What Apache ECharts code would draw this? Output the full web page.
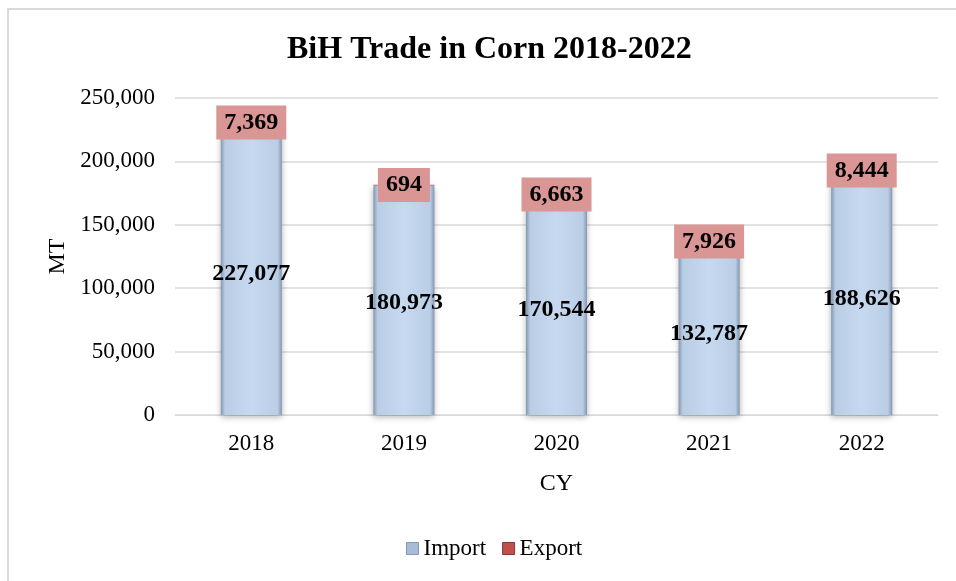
<!DOCTYPE html>
<html>
<head>
<meta charset="utf-8">
<script src="https://cdn.jsdelivr.net/npm/echarts@6/dist/echarts.min.js"></script>
<style>
html,body{margin:0;padding:0;background:#fff;}
#frame{position:absolute;left:7px;top:8px;width:1000px;height:640px;border:2px solid #d9d9d9;box-sizing:border-box;}
#chart{position:absolute;left:0;top:0;width:956px;height:581px;}
</style>
</head>
<body>
<div id="frame"></div>
<div id="chart"></div>
<script>
const categories = ['2018', '2019', '2020', '2021', '2022'];
const importValues = [227077, 180973, 170544, 132787, 188626];
const exportValues = [7369, 694, 6663, 7926, 8444];
const yTicks = [0, 50000, 100000, 150000, 200000, 250000];

const serif = '"Liberation Serif", "Times New Roman", serif';
const chart = echarts.init(document.getElementById('chart'));
const fmt = v => v.toLocaleString('en-US');

chart.setOption({
  animation: false,
  backgroundColor: 'transparent',
  title: {
    text: 'BiH Trade in Corn 2018-2022',
    left: 282, top: 29,
    textStyle: { fontFamily: serif, fontSize: 32, fontWeight: 'bold', color: '#000' }
  },
  legend: {
    bottom: 16, left: 401,
    itemWidth: 12, itemHeight: 12, itemGap: 16,
    textStyle: { fontFamily: serif, fontSize: 23, color: '#000' },
    data: [
      { name: 'Import', icon: 'rect', itemStyle: { color: '#a9bcd6', borderColor: '#8499b5', borderWidth: 1 } },
      { name: 'Export', icon: 'rect', itemStyle: { color: '#c0504d', borderColor: '#8c3331', borderWidth: 1 } }
    ]
  },
  grid: { left: 175, right: 18, top: 98, bottom: 166 },
  xAxis: {
    type: 'category', data: categories,
    name: 'CY', nameLocation: 'middle', nameGap: 57,
    nameTextStyle: { fontFamily: serif, fontSize: 24, color: '#000' },
    axisLine: { show: true, lineStyle: { color: '#d9d9d9', width: 1 } },
    axisTick: { show: false },
    axisLabel: { fontFamily: serif, fontSize: 23, color: '#000', margin: 17 }
  },
  yAxis: {
    type: 'value', min: yTicks[0], max: yTicks[yTicks.length - 1], interval: 50000,
    name: 'MT', nameLocation: 'middle', nameGap: 105,
    nameTextStyle: { fontFamily: serif, fontSize: 24, color: '#000' },
    axisLine: { show: false }, axisTick: { show: false },
    axisLabel: { fontFamily: serif, fontSize: 23, color: '#000', margin: 20, formatter: v => fmt(v) },
    splitLine: { lineStyle: { color: '#d9d9d9', width: 1.5 } }
  },
  series: [
    {
      name: 'Import', type: 'bar', stack: 'total', barWidth: '40%',
      data: importValues,
      itemStyle: {
        color: new echarts.graphic.LinearGradient(0, 0, 1, 0, [
          { offset: 0, color: '#8397b2' },
          { offset: 0.07, color: '#b9cde5' },
          { offset: 0.5, color: '#c6d9f1' },
          { offset: 0.93, color: '#b9cde5' },
          { offset: 1, color: '#8397b2' }
        ]),
        shadowColor: 'rgba(0,0,0,0.3)', shadowBlur: 6, shadowOffsetY: 2
      },
      label: {
        show: true, position: 'inside', offset: [0, 3], formatter: p => fmt(p.value),
        fontFamily: serif, fontSize: 24, fontWeight: 'bold', color: '#000'
      }
    },
    {
      name: 'Export', type: 'bar', stack: 'total', barWidth: '40%',
      data: exportValues,
      itemStyle: { color: '#c0504d' },
      label: {
        show: true, position: 'inside', formatter: p => fmt(p.value),
        fontFamily: serif, fontSize: 24, fontWeight: 'bold', color: '#000',
        backgroundColor: '#d99694', padding: [6, 8, 4, 8]
      }
    }
  ]
});
</script>
</body>
</html>
